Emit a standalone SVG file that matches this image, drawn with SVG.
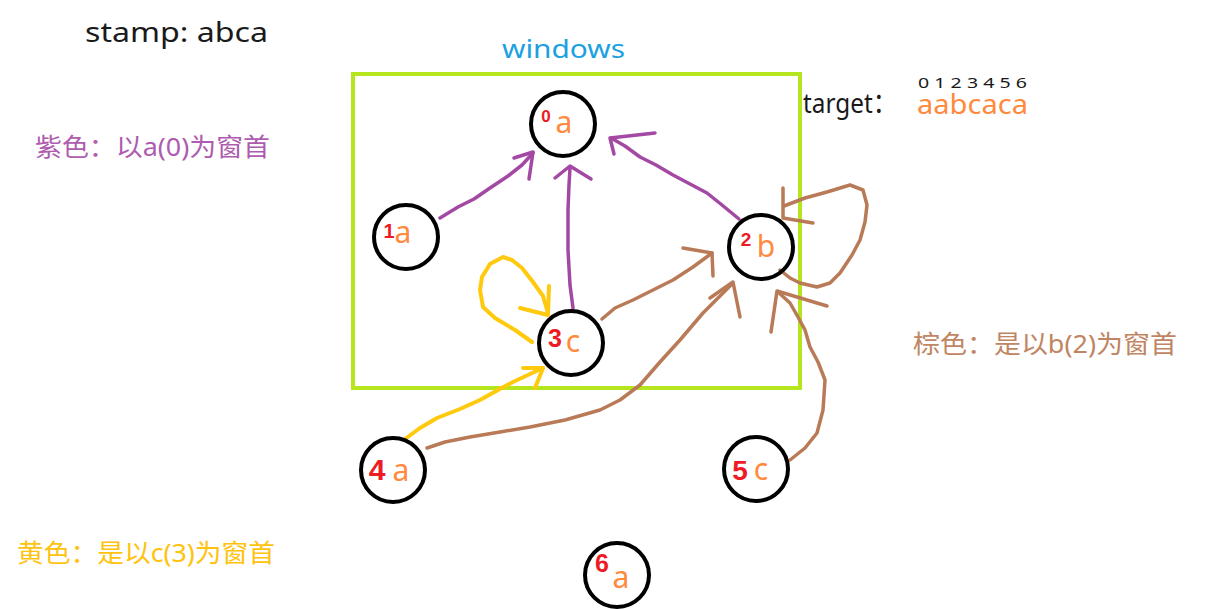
<svg xmlns="http://www.w3.org/2000/svg" width="1211" height="609" viewBox="0 0 1211 609">
<style>
.bg{fill:#ffffff}
.lbl{font-family:"Noto Sans","Noto Sans CJK SC",sans-serif}
.node circle{fill:none;stroke:#000;stroke-width:4}
.letter{font-family:"Noto Sans",sans-serif;font-size:30px;fill:#FF8A3D;text-anchor:middle}
.num{font-family:"Liberation Sans",sans-serif;font-weight:bold;fill:#ED1C24;text-anchor:middle}
.c{fill:none;stroke-linecap:round;stroke-linejoin:round}
.p{stroke:#A349A4;stroke-width:3.5}
.y{stroke:#FFC90E;stroke-width:4}
.b{stroke:#B97A57;stroke-width:3.5}
</style>
<rect class="bg" x="0" y="0" width="1211" height="609"/>

<g id="texts">
<text class="lbl" x="85" y="42" font-size="28" fill="#1a1a1a" textLength="183" lengthAdjust="spacingAndGlyphs">stamp: abca</text>
<text class="lbl" x="502" y="58" font-size="26" fill="#1BA1E2" textLength="123" lengthAdjust="spacingAndGlyphs">windows</text>
<text class="lbl" x="803" y="113" font-size="28" fill="#1a1a1a" textLength="94" lengthAdjust="spacingAndGlyphs">target：</text>
<text class="lbl" x="917" y="114" font-size="27" fill="#FF8A3D" textLength="111" lengthAdjust="spacingAndGlyphs">aabcaca</text>
<text class="lbl" x="918" y="88" font-size="15" fill="#1a1a1a" textLength="109" lengthAdjust="spacingAndGlyphs">0 1 2 3 4 5 6</text>
<text class="lbl" x="35" y="156" font-size="25" fill="#AD5CB0" textLength="235" lengthAdjust="spacingAndGlyphs">紫色：以a(0)为窗首</text>
<text class="lbl" x="913" y="353" font-size="25" fill="#C08563" textLength="264" lengthAdjust="spacingAndGlyphs">棕色：是以b(2)为窗首</text>
<text class="lbl" x="17" y="562" font-size="25" fill="#FFC20E" textLength="258" lengthAdjust="spacingAndGlyphs">黄色：是以c(3)为窗首</text>
</g>

<g id="window">
<rect x="353" y="74" width="447" height="314" fill="none" stroke="#B5E61D" stroke-width="4"/>
</g>

<g id="connectors">
<!-- purple -->
<path class="c p" d="M440,218 L458,207 L474,199 L490,188 L508,176 L522,165 L533,153"/>
<path class="c p" d="M514,158 L533,152 L529,179"/>
<path class="c p" d="M573,308 L570,285 L568,250 L568,210 L569,185 L570,168"/>
<path class="c p" d="M555,178 L570,166 L591,179"/>
<path class="c p" d="M739,219 L722,205 L707,193 L690,184 L673,175 L656,165 L640,157 L625,146 L611,138"/>
<path class="c p" d="M655,133 L610,138 L614,154"/>
<!-- yellow -->
<path class="c y" d="M532,342 L515,330 L495,318 L483,307 L480,290 L482,277 L490,264 L503,257 L512,260 L522,268 L533,282 L543,296 L548,313"/>
<path class="c y" d="M520,308 L548,315 L549,286"/>
<path class="c y" d="M405,439 L420,428 L437,418 L460,409 L480,400 L498,390 L513,382 L530,374 L543,368"/>
<path class="c y" d="M523,368 L543,368 L535,388"/>
<!-- brown -->
<path class="c b" d="M602,319 L615,308 L633,300 L655,289 L673,280 L693,267 L712,253"/>
<path class="c b" d="M683,248 L712,253 L713,276"/>
<path class="c b" d="M427,448 L445,442 L470,437 L500,432 L530,427 L565,420 L600,410 L620,400 L640,385 L660,362 L680,340 L703,313 L720,296 L733,283"/>
<path class="c b" d="M710,298 L733,282 L740,317"/>
<path class="c b" d="M780,270 L790,278 L800,283 L817,287 L830,283 L840,273 L852,255 L860,240 L865,222 L867,205 L863,190 L850,185 L827,192 L805,198 L784,206"/>
<path class="c b" d="M783,188 L783,218 L813,223"/>
<path class="c b" d="M790,460 L805,448 L817,433 L823,410 L825,380 L818,362 L810,347 L805,330 L798,317 L790,303 L778,292"/>
<path class="c b" d="M771,332 L777,291 L827,306"/>
</g>

<g id="node0" class="node">
<circle cx="563" cy="124" r="32"/>
<text class="num" x="546" y="122" font-size="17">0</text>
<text class="letter" x="564" y="133">a</text>
</g>
<g id="node1" class="node">
<circle cx="406" cy="237" r="32"/>
<text class="num" x="389" y="238" font-size="20">1</text>
<text class="letter" x="403" y="243">a</text>
</g>
<g id="node2" class="node">
<circle cx="761" cy="247" r="32"/>
<text class="num" x="746" y="246" font-size="19">2</text>
<text class="letter" x="766" y="257">b</text>
</g>
<g id="node3" class="node">
<circle cx="571" cy="343" r="32"/>
<text class="num" x="555" y="347" font-size="25">3</text>
<text class="letter" x="573" y="352">c</text>
</g>
<g id="node4" class="node">
<circle cx="393" cy="470" r="32"/>
<text class="num" x="377" y="480" font-size="30">4</text>
<text class="letter" x="401" y="481">a</text>
</g>
<g id="node5" class="node">
<circle cx="756" cy="469" r="32"/>
<text class="num" x="740" y="480" font-size="28">5</text>
<text class="letter" x="761" y="480">c</text>
</g>
<g id="node6" class="node">
<circle cx="617" cy="575" r="32"/>
<text class="num" x="602" y="572" font-size="25">6</text>
<text class="letter" x="621" y="588">a</text>
</g>
</svg>
